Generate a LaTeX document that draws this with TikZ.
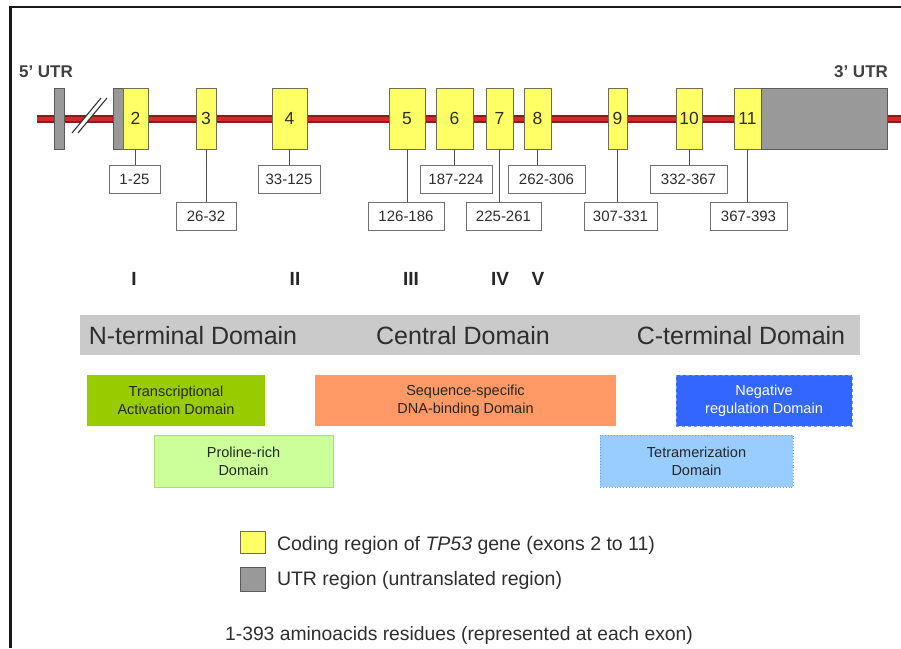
\documentclass[tikz,border=0pt]{standalone}
\usepackage{fontspec}
\setmainfont{Liberation Sans}
\setsansfont{Liberation Sans}
\definecolor{exonfill}{HTML}{FFFF66}
\definecolor{exonedge}{HTML}{6E6E50}
\definecolor{utrfill}{HTML}{999999}
\definecolor{utredge}{HTML}{5A5A5A}
\definecolor{rngedge}{HTML}{707070}
\definecolor{leadc}{HTML}{505050}
\definecolor{txt}{HTML}{2E2E2E}
\definecolor{reddark}{HTML}{8E1B1B}
\definecolor{redmid}{HTML}{D22A2A}
\definecolor{band}{HTML}{CACACA}
\definecolor{tadc}{HTML}{99CC00}
\definecolor{prdc}{HTML}{CCFF99}
\definecolor{prde}{HTML}{A6E070}
\definecolor{dbdc}{HTML}{FF9966}
\definecolor{nrdc}{HTML}{3366FF}
\definecolor{nrde}{HTML}{7799FF}
\definecolor{tdc}{HTML}{99CCFF}
\definecolor{tde}{HTML}{6C9EF0}
\begin{document}
\begin{tikzpicture}[x=1pt,y=-1pt,
  every node/.style={inner sep=0pt, outer sep=0pt},
  exon/.style={draw=exonedge, fill=exonfill, line width=0.9pt, minimum height=61pt,
    font=\fontsize{17.5}{17.5}\selectfont, text=txt},
  utr/.style={draw=utredge, fill=utrfill, line width=0.9pt, minimum height=61pt},
  rng/.style={draw=rngedge, fill=white, line width=0.9pt, minimum height=28pt,
    font=\fontsize{15}{15}\selectfont, text=txt},
  lead/.style={draw=leadc, line width=0.9pt},
  roman/.style={font=\bfseries\fontsize{19}{19}\selectfont, text=black!85},
  utrlabel/.style={font=\bfseries\fontsize{17}{17}\selectfont, text=black!75},
  region/.style={font=\fontsize{25}{25}\selectfont, text=txt},
  dom/.style={minimum height=51pt, align=center, font=\fontsize{14.5}{18}\selectfont, text=black!85},
  legtext/.style={anchor=west, font=\fontsize{19.5}{19.5}\selectfont, text=txt}]
\useasboundingbox (0,0) rectangle (901,648);

% partial frame
\draw[line width=2.2pt, black!90] (10.5,648) -- (10.5,7) -- (901,7);

% UTR labels
\node[utrlabel] (l5) at (46,72) {5’ UTR};
\node[utrlabel] (l3) at (861,72) {3’ UTR};

% gene backbone
\coordinate (bbL) at (37,119);
\coordinate (bbR) at (901,119);
\draw[line width=8pt, reddark] (bbL) -- (bbR);
\draw[line width=4pt, redmid] (bbL) -- (bbR);

% break mark
\fill[white] (72,133) -- (78,133) -- (107,98) -- (101,98) -- cycle;
\draw[line width=1.1pt, black!80] (72,133) -- (101,98);
\draw[line width=1.1pt, black!80] (78,133) -- (107,98);

% exons
\node[utr, minimum width=10pt] (u5) at (59,118.5) {};
\node[utr, minimum width=10pt] (u5b) at (118,118.5) {};
\node[exon, minimum width=25pt] (e2) at (135.5,118.5) {2};
\node[exon, minimum width=20pt] (e3) at (206,118.5) {3};
\node[exon, minimum width=35pt] (e4) at (289.5,118.5) {4};
\node[exon, minimum width=36pt] (e5) at (407,118.5) {5};
\node[exon, minimum width=37pt] (e6) at (454.5,118.5) {6};
\node[exon, minimum width=27pt] (e7) at (499.5,118.5) {7};
\node[exon, minimum width=27pt] (e8) at (537.5,118.5) {8};
\node[exon, minimum width=19pt] (e9) at (617.5,118.5) {9};
\node[exon, minimum width=26pt] (e10) at (689,118.5) {10};
\node[exon, minimum width=27pt] (e11) at (747.5,118.5) {11};
\node[utr, minimum width=126pt] (u3) at (824,118.5) {};

% residue ranges
\node[rng, minimum width=51pt] (r2) at (134.5,179) {1-25};
\node[rng, minimum width=60pt] (r3) at (206,216) {26-32};
\node[rng, minimum width=62pt] (r4) at (289,179) {33-125};
\node[rng, minimum width=76pt] (r5) at (406,216) {126-186};
\node[rng, minimum width=72pt] (r6) at (456,179) {187-224};
\node[rng, minimum width=75pt] (r7) at (503.5,216) {225-261};
\node[rng, minimum width=77pt] (r8) at (546.5,179) {262-306};
\node[rng, minimum width=73pt] (r9) at (620.5,216) {307-331};
\node[rng, minimum width=77pt] (r10) at (688.5,179) {332-367};
\node[rng, minimum width=77pt] (r11) at (748.5,216) {367-393};

\foreach \i in {2,...,11}{
  \draw[lead] (e\i.south) -- (e\i.south |- r\i.north);
}

% conserved boxes
\node[roman] (c1) at (134,279) {I};
\node[roman] (c2) at (295,279) {II};
\node[roman] (c3) at (411,279) {III};
\node[roman] (c4) at (500,279) {IV};
\node[roman] (c5) at (538,279) {V};

% protein regions
\node[fill=band, minimum width=780pt, minimum height=40pt] (bandbox) at (470,335) {};
\node[region] (nterm) at (193,336) {N-terminal Domain};
\node[region] (central) at (463,336) {Central Domain};
\node[region] (cterm) at (741,336) {C-terminal Domain};

% functional domains
\node[dom, fill=tadc, minimum width=178pt] (tad) at (176,400.5) {Transcriptional\\Activation Domain};
\node[dom, fill=prdc, draw=prde, line width=0.9pt, minimum width=179pt, minimum height=52pt] (prd) at (243.5,461) {Proline-rich\\Domain};
\node[dom, fill=dbdc, minimum width=301pt] (dbd) at (465.5,400.5) {Sequence-specific\\DNA-binding Domain};
\node[dom, fill=nrdc, draw=nrde, dashed, line width=0.8pt, minimum width=176pt, text=white] (nrd) at (764,400.5) {Negative\\regulation Domain};
\node[dom, fill=tdc, draw=tde, dotted, line width=0.9pt, minimum width=193pt, minimum height=52pt] (td) at (696.5,461) {Tetramerization\\Domain};

% legend
\node[draw=exonedge, fill=exonfill, line width=0.9pt, minimum width=25pt, minimum height=22pt] (kc) at (252.5,542) {};
\node[draw=utredge, fill=utrfill, line width=0.9pt, minimum width=25pt, minimum height=24pt] (ku) at (252.5,579) {};
\node[legtext] (kct) at (277,545) {Coding region of \textit{TP53} gene (exons 2 to 11)};
\node[legtext] (kut) at (277,580) {UTR region (untranslated region)};
\node[font=\fontsize{19.3}{19.3}\selectfont, text=txt] (note) at (459,635) {1-393 aminoacids residues (represented at each exon)};
\end{tikzpicture}
\end{document}
